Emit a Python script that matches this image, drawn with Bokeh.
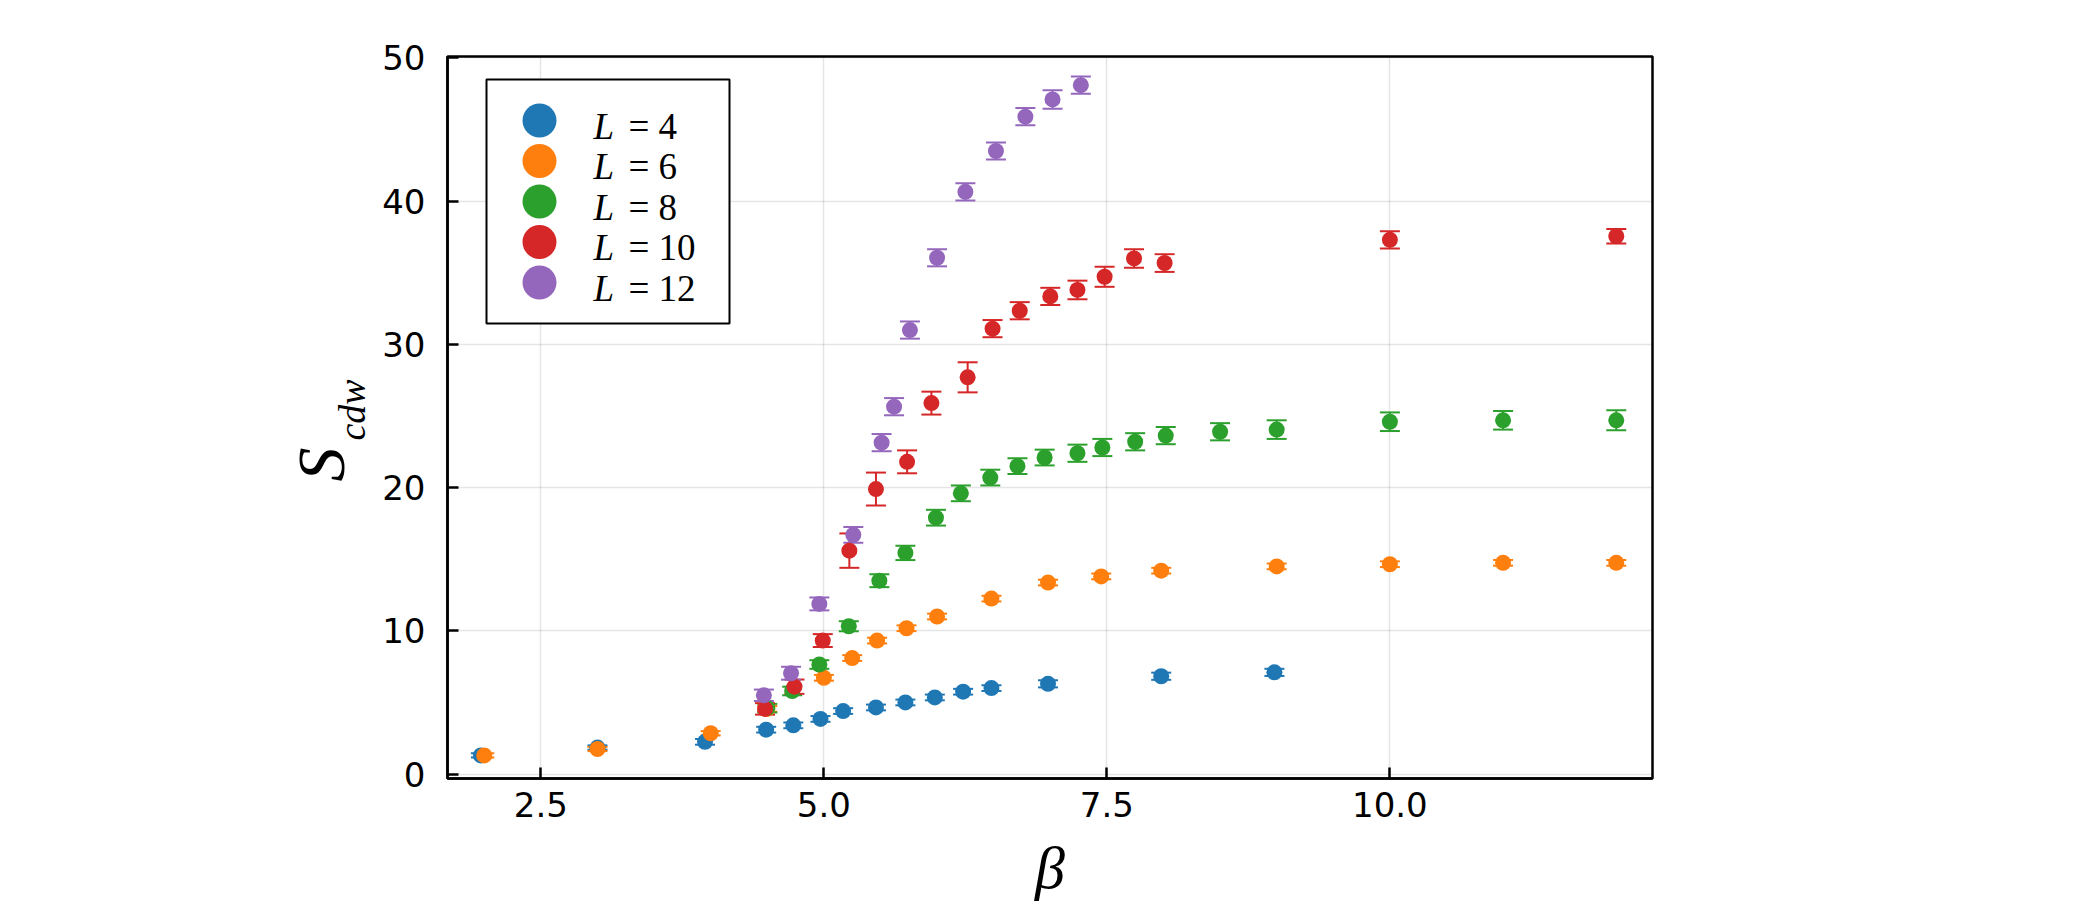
from bokeh.plotting import figure
from bokeh.models import (ColumnDataSource, Range1d, FixedTicker, NumeralTickFormatter,
                          Whisker, TeeHead, Label, BoxAnnotation, Title)
from bokeh.embed import file_html
from bokeh.resources import INLINE

# ---------------- data ----------------
L_values = [4, 6, 8, 10, 12]
colors = ["#1f77b4", "#ff7f0e", "#2ca02c", "#d62728", "#9467bd"]

beta_L4 = [1.97, 3.0, 3.95, 4.49, 4.73, 4.97, 5.17, 5.46, 5.72, 5.98, 6.23, 6.48, 6.98, 7.98, 8.98]
S_L4 = [1.3, 1.85, 2.25, 3.1, 3.4, 3.85, 4.4, 4.65, 5.0, 5.35, 5.75, 6.0, 6.3, 6.83, 7.1]
err_L4 = [0.15, 0.15, 0.2, 0.2, 0.2, 0.2, 0.2, 0.2, 0.2, 0.2, 0.2, 0.2, 0.25, 0.25, 0.25]

beta_L6 = [2.0, 3.0, 4.0, 4.5, 5.0, 5.25, 5.47, 5.73, 6.0, 6.48, 6.98, 7.45, 7.98, 9.0, 10.0, 11.0, 12.0]
S_L6 = [1.3, 1.75, 2.85, 4.55, 6.72, 8.1, 9.32, 10.18, 11.0, 12.25, 13.37, 13.8, 14.2, 14.5, 14.65, 14.75, 14.75]
err_L6 = [0.15, 0.15, 0.15, 0.2, 0.2, 0.2, 0.2, 0.2, 0.2, 0.2, 0.2, 0.2, 0.2, 0.2, 0.2, 0.2, 0.2]

beta_L8 = [4.5, 4.72, 4.96, 5.22, 5.49, 5.72, 5.99, 6.21, 6.47, 6.71, 6.95, 7.24, 7.46, 7.75,
           8.02, 8.5, 9.0, 10.0, 11.0, 12.0]
S_L8 = [4.6, 5.8, 7.65, 10.32, 13.5, 15.44, 17.9, 19.6, 20.7, 21.5, 22.1, 22.4, 22.8, 23.2,
        23.63, 23.9, 24.05, 24.6, 24.7, 24.7]
err_L8 = [0.3, 0.3, 0.3, 0.35, 0.45, 0.5, 0.55, 0.55, 0.55, 0.55, 0.55, 0.6, 0.6, 0.6,
          0.6, 0.6, 0.65, 0.65, 0.65, 0.7]

beta_L10 = [4.48, 4.74, 4.99, 5.225, 5.46, 5.735, 5.95, 6.27, 6.49, 6.73, 7.0, 7.24, 7.48,
            7.74, 8.01, 10.0, 12.0]
S_L10 = [4.55, 6.1, 9.32, 15.6, 19.9, 21.8, 25.9, 27.7, 31.1, 32.35, 33.35, 33.8, 34.72,
         36.0, 35.68, 37.3, 37.55]
err_L10 = [0.4, 0.5, 0.45, 1.2, 1.15, 0.8, 0.8, 1.05, 0.6, 0.6, 0.6, 0.65, 0.7, 0.65, 0.62, 0.6, 0.5]

beta_L12 = [4.47, 4.71, 4.96, 5.26, 5.51, 5.62, 5.76, 6.0, 6.25, 6.52, 6.78, 7.02, 7.27]
S_L12 = [5.5, 7.04, 11.88, 16.7, 23.14, 25.65, 31.0, 36.05, 40.65, 43.5, 45.9, 47.1, 48.1]
err_L12 = [0.4, 0.45, 0.45, 0.55, 0.6, 0.6, 0.6, 0.6, 0.6, 0.6, 0.6, 0.65, 0.6]

x_ticks = [2.5, 5.0, 7.5, 10.0]
y_ticks = [0, 10, 20, 30, 40, 50]

series = [
    (beta_L4, S_L4, err_L4),
    (beta_L6, S_L6, err_L6),
    (beta_L8, S_L8, err_L8),
    (beta_L10, S_L10, err_L10),
    (beta_L12, S_L12, err_L12),
]

# ---------------- figure ----------------
p = figure(frame_width=1205, frame_height=722,
           min_border_left=447, min_border_right=420, min_border_top=56, min_border_bottom=60,
           x_range=Range1d(1.675, 12.32), y_range=Range1d(-0.31, 50.1),
           output_backend="svg", toolbar_location=None)

p.background_fill_color = "white"
p.border_fill_color = "white"
p.outline_line_color = "black"
p.outline_line_width = 2.5
p.outline_line_alpha = 1.0

p.xaxis.ticker = FixedTicker(ticks=x_ticks)
p.yaxis.ticker = FixedTicker(ticks=y_ticks)
p.xgrid.ticker = FixedTicker(ticks=x_ticks)
p.ygrid.ticker = FixedTicker(ticks=y_ticks)
p.xaxis.formatter = NumeralTickFormatter(format="0.0")
p.yaxis.formatter = NumeralTickFormatter(format="0")

for ax in (p.xaxis[0], p.yaxis[0]):
    ax.axis_line_width = 2.5
    ax.axis_line_color = "black"
    ax.major_tick_in = 11
    ax.major_tick_out = 0
    ax.major_tick_line_width = 2.5
    ax.major_tick_line_color = "black"
    ax.minor_tick_line_color = None
    ax.major_label_text_font = "DejaVu Sans"
    ax.major_label_text_font_size = "34px"
    ax.major_label_text_color = "black"
p.xaxis.major_label_standoff = 13
p.yaxis.major_label_standoff = 22

# x axis label
p.xaxis.axis_label = "β"
p.xaxis.axis_label_text_font = "Liberation Serif"
p.xaxis.axis_label_text_font_style = "italic"
p.xaxis.axis_label_text_font_size = "60px"
p.xaxis.axis_label_text_color = "black"
p.xaxis.axis_label_standoff = 15

p.grid.grid_line_color = "black"
p.grid.grid_line_alpha = 0.1
p.grid.grid_line_width = 1.5

for c, (xs, ys, es) in zip(colors, series):
    src = ColumnDataSource(dict(
        x=xs, y=ys,
        lower=[y - e for y, e in zip(ys, es)],
        upper=[y + e for y, e in zip(ys, es)],
    ))
    p.add_layout(Whisker(source=src, base="x", lower="lower", upper="upper",
                         line_color=c, line_width=2,
                         upper_head=TeeHead(size=20, line_color=c, line_width=2),
                         lower_head=TeeHead(size=20, line_color=c, line_width=2)))
    p.scatter("x", "y", source=src, size=16, fill_color=c, line_color=None)

# ---------------- y axis label: S with subscript cdw (two side titles) ----------------
p.add_layout(Title(text="cdw", align="left", offset=338, standoff=14,
                   vertical_align="bottom",
                   text_font="Liberation Serif", text_font_style="italic",
                   text_font_size="38px", text_color="black"), "left")
p.add_layout(Title(text="S", align="left", offset=297, standoff=-74,
                   vertical_align="bottom",
                   text_font="Liberation Serif", text_font_style="italic",
                   text_font_size="68px", text_color="black"), "left")

# ---------------- legend ----------------
p.add_layout(BoxAnnotation(left=39, right=282, bottom=455, top=699,
                           left_units="screen", right_units="screen",
                           bottom_units="screen", top_units="screen",
                           fill_color="white", fill_alpha=1.0,
                           line_color="black", line_width=2, line_alpha=1.0))
row_top = 658
row_step = 40.5
r = 17
for i, (L, c) in enumerate(zip(L_values, colors)):
    cy = row_top - i * row_step
    p.add_layout(BoxAnnotation(left=92 - r, right=92 + r, bottom=cy - r, top=cy + r,
                               left_units="screen", right_units="screen",
                               bottom_units="screen", top_units="screen",
                               border_radius=r, fill_color=c, fill_alpha=1.0,
                               line_color=None))
    p.add_layout(Label(x=146, y=cy - 5.5, x_units="screen", y_units="screen", text="L",
                       text_font="Liberation Serif", text_font_style="italic",
                       text_font_size="37px", text_align="left", text_baseline="middle",
                       text_color="black"))
    p.add_layout(Label(x=181, y=cy - 5.5, x_units="screen", y_units="screen", text=f"= {L}",
                       text_font="Liberation Serif", text_font_style="normal",
                       text_font_size="37px", text_align="left", text_baseline="middle",
                       text_color="black"))

open("out.html", "w").write(file_html(p, INLINE))
